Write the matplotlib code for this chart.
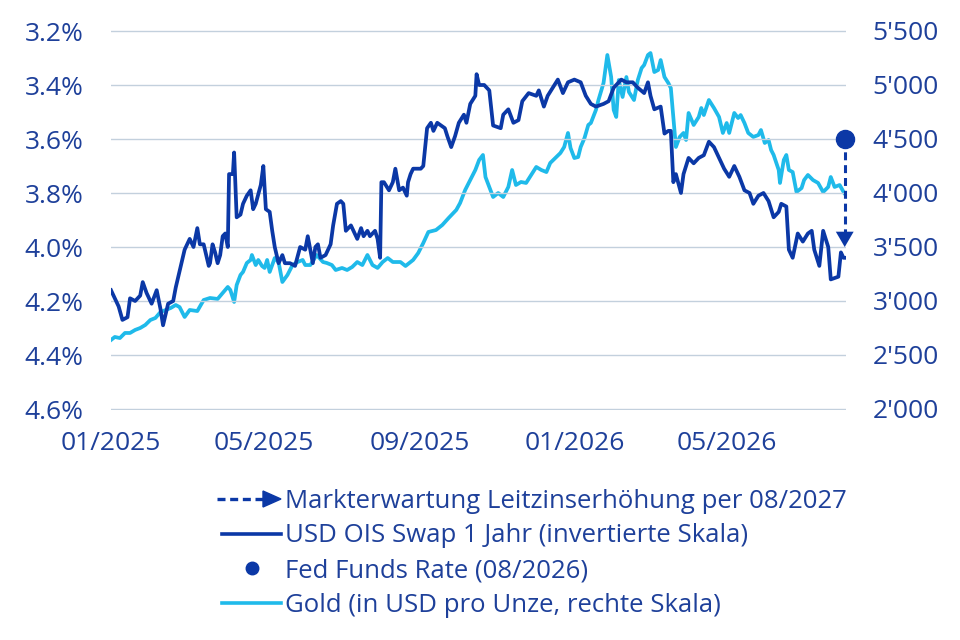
import matplotlib
matplotlib.use("Agg")
import matplotlib.pyplot as plt
import matplotlib.dates as mdates
from matplotlib.lines import Line2D
from matplotlib.ticker import FixedLocator, FuncFormatter
import pandas as pd

# ---------------- data ----------------
start = pd.Timestamp("2025-01-01")

# USD OIS Swap 1 Jahr (in %), days since 2025-01-01
ois_days = [0,3,6,9,13,15,19,23,25,28,32,36,39,41,45,49,51,54,57,58,
            62,65,68,70,73,77,78,80,82,84,86,88,90,92,93,96,97,99,102,104,
            107,110,112,114,118,120,122,125,127,129,132,135,137,141,145,149,153,155,159,161,
            163,165,169,173,175,178,181,183,185,189,191,194,197,199,202,204,208,210,212,213,
            215,219,222,224,227,230,233,234,236,238,242,244,246,249,252,254,257,260,263,265,
            268,271,274,278,280,283,287,288,290,294,298,301,307,309,313,317,321,324,329,335,
            337,341,344,348,352,356,360,365,370,374,378,382,388,392,396,402,406,411,415,420,
            423,425,428,433,436,439,441,443,445,449,451,455,459,463,467,471,475,479,483,487,
            491,495,499,503,506,510,514,518,522,526,528,532,534,537,541,545,549,552,554,558,
            561,565,567,573,575,577,580]
ois_values = [4.16,4.19,4.22,4.27,4.26,4.19,4.20,4.18,4.13,4.17,4.21,4.16,4.23,4.29,4.21,4.20,4.15,4.09,4.03,4.01,
              3.97,4.00,3.93,3.99,3.99,4.07,4.06,3.99,4.02,4.06,4.03,3.96,3.95,4.00,3.73,3.73,3.65,3.89,3.88,3.84,
              3.81,3.79,3.86,3.84,3.77,3.70,3.86,3.87,3.94,4.00,4.06,4.03,4.06,4.06,4.07,4.00,4.01,3.96,4.06,4.00,
              3.99,4.04,4.03,3.99,3.92,3.84,3.83,3.84,3.94,3.92,3.94,3.97,3.93,3.96,3.94,3.96,3.94,3.97,4.04,3.76,
              3.76,3.79,3.76,3.71,3.79,3.78,3.81,3.76,3.73,3.71,3.71,3.71,3.70,3.56,3.54,3.57,3.54,3.55,3.56,3.59,
              3.63,3.59,3.54,3.51,3.54,3.47,3.44,3.36,3.40,3.40,3.42,3.55,3.56,3.51,3.49,3.54,3.53,3.46,3.43,3.44,
              3.42,3.48,3.44,3.41,3.38,3.43,3.39,3.38,3.39,3.44,3.47,3.48,3.47,3.46,3.41,3.38,3.39,3.39,3.41,3.43,
              3.39,3.44,3.49,3.48,3.58,3.57,3.57,3.76,3.73,3.80,3.73,3.67,3.69,3.67,3.66,3.61,3.63,3.67,3.71,3.74,
              3.70,3.74,3.79,3.80,3.84,3.81,3.80,3.83,3.89,3.87,3.84,3.85,4.01,4.04,3.95,3.98,3.95,3.94,4.01,4.07,
              3.94,4.00,4.12,4.11,4.02,4.04,4.04]

# Gold (USD per ounce), days since 2025-01-01
gold_days = [0,3,7,11,15,19,23,27,31,35,39,43,47,51,54,58,62,68,73,78,
             84,88,92,94,97,99,102,104,107,110,111,114,116,119,121,123,125,129,132,135,
             139,143,147,151,153,157,162,167,170,174,177,182,186,190,194,198,202,206,210,214,
             218,222,228,232,238,242,246,250,256,261,266,272,275,279,283,287,290,293,295,298,
             301,305,309,313,316,319,323,327,331,335,339,343,346,350,354,357,360,362,365,368,
             370,373,376,378,382,384,388,391,394,396,398,400,403,406,408,412,415,418,420,423,
             425,428,431,433,436,439,441,443,445,448,451,453,455,459,463,465,467,471,475,479,
             482,485,487,491,494,496,499,502,506,510,512,515,518,520,522,526,527,530,532,534,
             537,540,544,546,549,553,557,561,565,567,570,574,578,580]
gold_values = [2639,2667,2657,2704,2704,2732,2750,2778,2824,2843,2898,2917,2935,2963,2944,2852,2917,2907,3009,3028,
               3019,3074,3130,3102,2991,3148,3241,3269,3352,3380,3426,3333,3380,3324,3306,3380,3269,3398,3361,3176,
               3241,3333,3361,3380,3333,3333,3426,3361,3352,3333,3287,3306,3287,3315,3361,3333,3426,3333,3306,3361,
               3398,3361,3361,3324,3380,3444,3537,3639,3657,3704,3769,3843,3907,4028,4120,4213,4306,4352,4148,4056,
               3963,4000,3963,4056,4213,4074,4102,4093,4167,4241,4213,4194,4278,4324,4370,4426,4556,4417,4324,4333,
               4426,4509,4630,4648,4769,4861,5019,5278,5074,4769,4704,5046,4889,5074,4935,4861,5046,5157,5185,5278,
               5296,5120,5139,5231,5074,5019,4972,4704,4426,4519,4556,4491,4741,4630,4704,4787,4722,4861,4787,4704,
               4556,4648,4556,4741,4694,4722,4648,4556,4519,4537,4583,4463,4491,4398,4352,4213,4093,4306,4352,4213,
               4194,4009,4046,4120,4167,4120,4093,4009,4056,4148,4056,4074,3991,4000]

fed_date = "2026-08-02"
fed_funds_rate = 3.60          # Fed Funds Rate (08/2026)
market_expectation = 4.00      # Markterwartung per 08/2027

x_start, x_end = "2025-01-01", "2026-08-03"
left_ticks = [3.2, 3.4, 3.6, 3.8, 4.0, 4.2, 4.4, 4.6]
right_ticks = [2000, 2500, 3000, 3500, 4000, 4500, 5000, 5500]
x_tick_dates = ["2025-01-01", "2025-05-01", "2025-09-01", "2026-01-01", "2026-05-01"]

legend_labels = ["Markterwartung Leitzinserhöhung per 08/2027",
                 "USD OIS Swap 1 Jahr (invertierte Skala)",
                 "Fed Funds Rate (08/2026)",
                 "Gold (in USD pro Unze, rechte Skala)"]

# ---------------- style ----------------
DARK = "#0B38A6"
LIGHT = "#1FBAEA"
TEXT = "#1E409A"
GRID = "#C3D0DD"
FONT = "Open Sans"
plt.rcParams["font.family"] = [FONT, "DejaVu Sans"]

ois_dates = start + pd.to_timedelta(ois_days, unit="D")
gold_dates = start + pd.to_timedelta(gold_days, unit="D")

W, H = 960, 640
fig = plt.figure(figsize=(W / 100, H / 100), dpi=100)
pad = 0.005
px_per = 54 / 0.2
ax_l, ax_r = 111, 846
ax_t, ax_b = 31 - pad * px_per, 409 + pad * px_per
ax = fig.add_axes([ax_l / W, 1 - ax_b / H, (ax_r - ax_l) / W, (ax_b - ax_t) / H])
ax2 = ax.twinx()

for a in (ax, ax2):
    for s in a.spines.values():
        s.set_visible(False)

ax.set_ylim(4.6 + pad, 3.2 - pad)
ax2.set_ylim(2000 - pad * 2500, 5500 + pad * 2500)
ax.set_xlim(pd.Timestamp(x_start), pd.Timestamp(x_end))

ax.yaxis.set_major_locator(FixedLocator(left_ticks))
ax.yaxis.set_major_formatter(FuncFormatter(lambda v, p: f"{v:.1f}%"))
ax2.yaxis.set_major_locator(FixedLocator(right_ticks))
ax2.yaxis.set_major_formatter(FuncFormatter(lambda v, p: f"{int(round(v)) // 1000}'{int(round(v)) % 1000:03d}"))
ax.xaxis.set_major_locator(FixedLocator([mdates.date2num(pd.Timestamp(d)) for d in x_tick_dates]))
ax.xaxis.set_major_formatter(mdates.DateFormatter("%m/%Y"))

fs = 19
ax.tick_params(axis="y", length=0, pad=20, labelsize=fs, labelcolor=TEXT)
ax.tick_params(axis="x", length=0, pad=15, labelsize=fs, labelcolor=TEXT)
ax2.tick_params(axis="y", length=0, pad=19, labelsize=fs, labelcolor=TEXT)

ax.grid(axis="y", color=GRID, linewidth=1.0)
ax.set_axisbelow(True)

ax2.plot(gold_dates, gold_values, color=LIGHT, linewidth=2.7, solid_joinstyle="round", zorder=2)
ax.set_zorder(ax2.get_zorder() + 1)
ax.patch.set_visible(False)
ax.plot(ois_dates, ois_values, color=DARK, linewidth=2.7, solid_joinstyle="round", zorder=3)

fd = pd.Timestamp(fed_date)
ax.plot([fd, fd], [fed_funds_rate, market_expectation - 0.03], color=DARK, linewidth=2.2,
        linestyle=(0, (2.6, 1.6)), zorder=4, clip_on=False)
ax.annotate("", xy=(fd, market_expectation), xytext=(0, 14), textcoords="offset points",
            arrowprops=dict(arrowstyle="-|>,head_length=0.55,head_width=0.32", mutation_scale=20,
                            color=DARK, lw=0.01, shrinkA=0, shrinkB=0), zorder=5, annotation_clip=False)
ax.plot([fd], [fed_funds_rate], marker="o", markersize=13, color=DARK, zorder=6, clip_on=False)

# ---------------- legend (manual) ----------------
def fx(x):
    return x / W

def fy(y):
    return 1 - y / H

baselines = [508, 542.5, 577, 611.5]
mids = [b - 9 for b in baselines]
text_x = 285
lfs = 18.5
for lab, by in zip(legend_labels, baselines):
    fig.text(fx(text_x), fy(by), lab, fontsize=lfs, color=TEXT, va="baseline", ha="left")

# row 1: dashed arrow
fig.add_artist(Line2D([fx(217), fx(265)], [fy(mids[0])] * 2, transform=fig.transFigure,
                      color=DARK, linewidth=2.4, linestyle=(0, (2.4, 1.4))))
fig.add_artist(plt.Polygon([[fx(263), fy(mids[0] - 8)], [fx(263), fy(mids[0] + 8)], [fx(281), fy(mids[0])]],
                           closed=True, transform=fig.transFigure, color=DARK))
# row 2: dark line
fig.add_artist(Line2D([fx(222), fx(281)], [fy(mids[1])] * 2, transform=fig.transFigure,
                      color=DARK, linewidth=2.6))
# row 3: dot
fig.add_artist(Line2D([fx(252)], [fy(mids[2])], transform=fig.transFigure, marker="o",
                      markersize=9, color=DARK, linestyle="none"))
# row 4: light line
fig.add_artist(Line2D([fx(222), fx(281)], [fy(mids[3])] * 2, transform=fig.transFigure,
                      color=LIGHT, linewidth=2.6))

fig.savefig("out.png", dpi=100, facecolor="white")
